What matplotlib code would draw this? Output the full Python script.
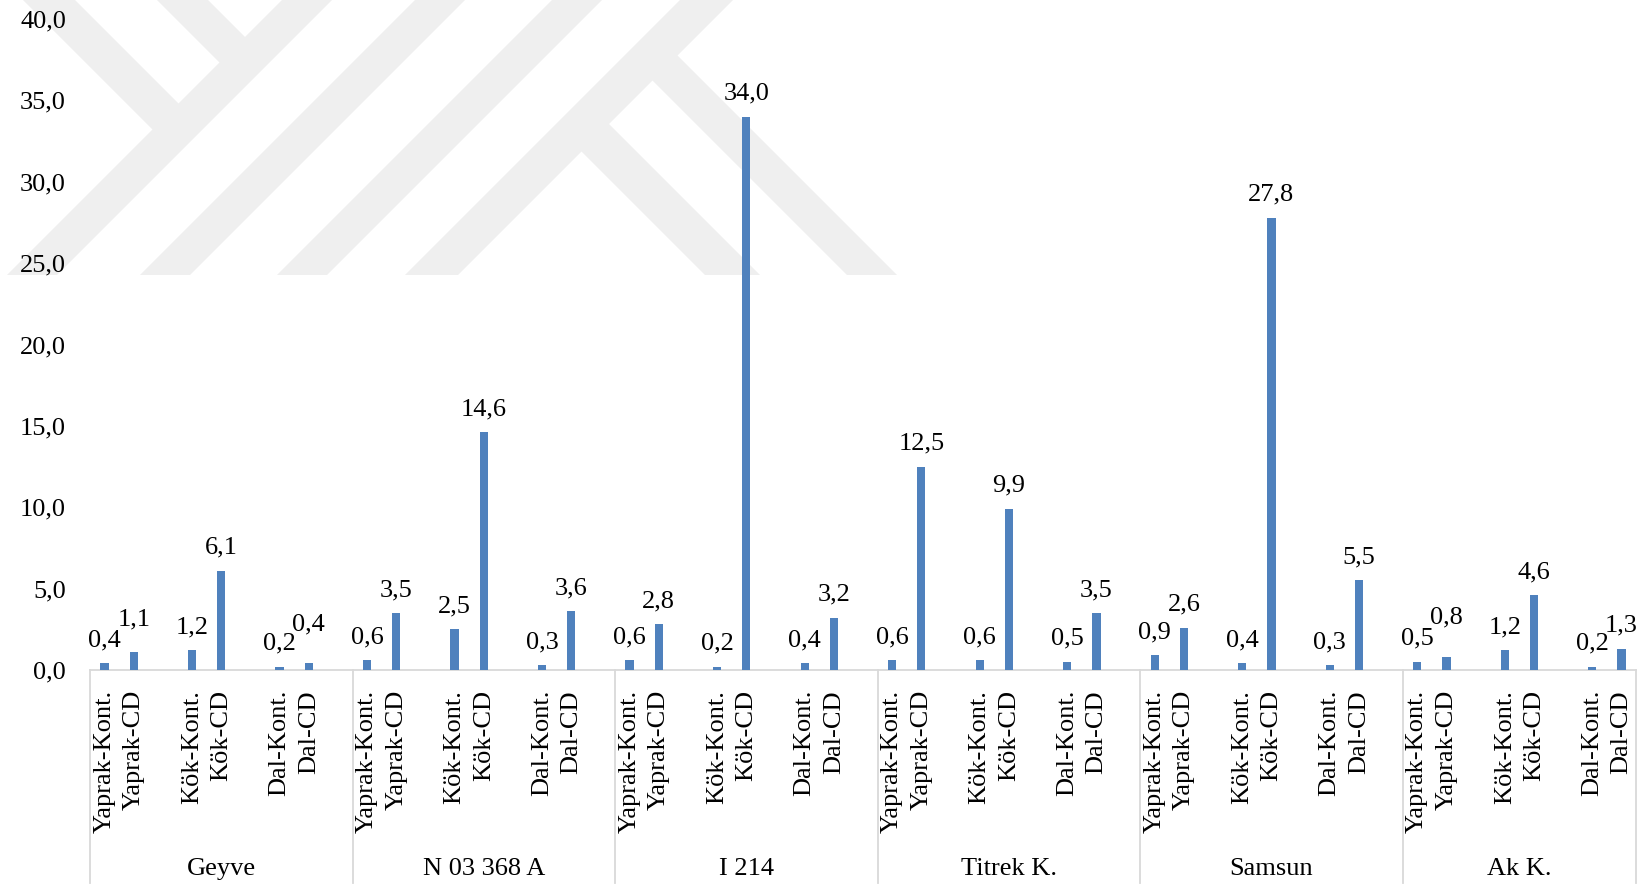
import matplotlib
matplotlib.use("Agg")
import matplotlib.pyplot as plt
from matplotlib.patches import Polygon
from matplotlib.lines import Line2D
from matplotlib.transforms import blended_transform_factory

plt.rcParams['font.family'] = ['Liberation Serif', 'DejaVu Serif']

# ---- data -------------------------------------------------------------
groups = ["Geyve", "N 03 368 A", "I 214", "Titrek K.", "Samsun", "Ak K."]
organs = ["Yaprak", "Kök", "Dal"]
treatments = ["Kont.", "CD"]

# values per group: (organ-Kont., organ-CD) for Yaprak, Kök, Dal
geyve = [0.4, 1.1, 1.2, 6.1, 0.2, 0.4]
n03368a = [0.6, 3.5, 2.5, 14.6, 0.3, 3.6]
i214 = [0.6, 2.8, 0.2, 34.0, 0.4, 3.2]
titrek = [0.6, 12.5, 0.6, 9.9, 0.5, 3.5]
samsun = [0.9, 2.6, 0.4, 27.8, 0.3, 5.5]
akk = [0.5, 0.8, 1.2, 4.6, 0.2, 1.3]
series = [geyve, n03368a, i214, titrek, samsun, akk]

y_ticks = [0, 5, 10, 15, 20, 25, 30, 35, 40]

# extra lift (pixels) for labels that would otherwise collide
label_lift = {(0, 1): 10, (0, 5): 16.5, (5, 1): 17}

# ---- figure -----------------------------------------------------------
W, H = 1652, 886
fig = plt.figure(figsize=(W / 100, H / 100), dpi=100)
fig.patch.set_facecolor("white")

# faint background logo made of diagonal bands
mark_color = "#EFEFEF"
bands = [
    [(282, 0), (332, 0), (57, 275), (7, 275)],
    [(415, 0), (465, 0), (190, 275), (140, 275)],
    [(552, 0), (602, 0), (327, 275), (277, 275)],
    [(680, 0), (733, 0), (458, 275), (405, 275)],
    [(23, 0), (75, 0), (187.5, 112.5), (161.5, 138.5)],
    [(157, 0), (208, 0), (254, 46), (228.5, 71.5)],
    [(572.5, 142.5), (600, 115), (760, 275), (705, 275)],
    [(643.5, 71.5), (668.5, 46.5), (897, 275), (847, 275)],
]
for b in bands:
    pts = [(x / W, 1 - y / H) for x, y in b]
    fig.add_artist(Polygon(pts, closed=True, facecolor=mark_color,
                           edgecolor="none", transform=fig.transFigure,
                           zorder=0))

ax_left, ax_right, ax_top, ax_bottom = 90, 1636, 19, 670
ax = fig.add_axes([ax_left / W, 1 - ax_bottom / H,
                   (ax_right - ax_left) / W, (ax_bottom - ax_top) / H])
ax.patch.set_alpha(0)
ax.set_zorder(2)

# category slots: two bars per organ, a blank slot between organ pairs
labels, values, positions, keys = [], [], [], []
slot = 0
group_spans = []
for gi, (g, vals) in enumerate(zip(groups, series)):
    start = slot
    for oi, organ in enumerate(organs):
        for ti, tr in enumerate(treatments):
            labels.append(f"{organ}-{tr}")
            values.append(vals[oi * 2 + ti])
            positions.append(slot)
            keys.append((gi, oi * 2 + ti))
            slot += 1
        if not (gi == len(groups) - 1 and oi == len(organs) - 1):
            slot += 1
    group_spans.append((start - 0.5, slot - 0.5 if gi < len(groups) - 1 else slot - 0.5))
n_slots = slot

bar_color = "#4F81BD"
ax.bar(positions, values, width=0.285, color=bar_color, zorder=3)

ax.set_xlim(-0.5, n_slots - 0.5)
ax.set_ylim(0, 40)
ax.set_yticks(y_ticks)
ax.set_yticklabels([f"{t:.1f}".replace(".", ",") for t in y_ticks])
ax.set_xticks(positions)
ax.set_xticklabels(labels, rotation=90)
ax.tick_params(axis="x", length=0, pad=14.4, labelsize=19)
ax.tick_params(axis="y", length=0, pad=17.3, labelsize=19)

for s in ["left", "right", "top"]:
    ax.spines[s].set_visible(False)
ax.spines["bottom"].set_color("#D9D9D9")
ax.spines["bottom"].set_linewidth(1.3)

# value labels above the bars
px_to_pt = 72 / 100
for x, v, k in zip(positions, values, keys):
    off = (17 + label_lift.get(k, 0)) * px_to_pt
    ax.annotate(f"{v:.1f}".replace(".", ","), (x, v), xytext=(0, off),
                textcoords="offset points", ha="center", va="baseline",
                fontsize=19, color="black", zorder=4)

# group separators and group names under the category axis
trans = blended_transform_factory(ax.transData, fig.transFigure)
y_top = 1 - ax_bottom / H
y_bot = 1 - 883 / H
bounds = [s[0] for s in group_spans] + [group_spans[-1][1]]
for b in bounds:
    fig.add_artist(Line2D([b, b], [y_top, y_bot], transform=trans,
                          color="#D9D9D9", linewidth=1.3, zorder=1))
for g, (a, b) in zip(groups, group_spans):
    fig.text((a + b) / 2, 1 - 875 / H, g, transform=trans,
             ha="center", va="baseline", fontsize=19)

fig.savefig("out.png", dpi=100)
